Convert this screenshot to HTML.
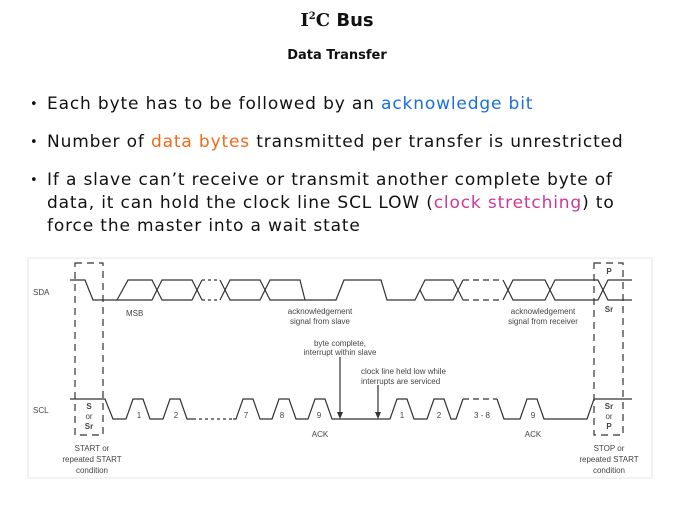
<!DOCTYPE html>
<html><head><meta charset="utf-8"><style>
body{margin:0;width:674px;height:506px;background:#fff;position:relative;overflow:hidden;font-family:"DejaVu Sans","Liberation Sans",sans-serif;color:#111}
.t{position:absolute;left:0;width:674px;text-align:center;font-weight:bold}
.b{position:absolute;left:30px;font-size:17px;line-height:23px;letter-spacing:0.85px;white-space:nowrap}
.b span.d{position:absolute;left:0;font-size:13px;letter-spacing:0}
.b div{margin-left:17px}
</style></head><body>
<div class="t" style="top:10px;font-size:18px;font-family:'DejaVu Serif','Liberation Serif',serif">I<sup style="font-size:10px">2</sup>C <span style="font-family:'DejaVu Sans',sans-serif">Bus</span></div>
<div class="t" style="top:48px;font-size:13px">Data Transfer</div>
<div class="b" style="top:93px"><span class="d">•</span><div>Each byte has to be followed by an <span style="color:#1a6fe0">acknowledge bit</span></div></div>
<div class="b" style="top:131px"><span class="d">•</span><div>Number of <span style="color:#ee6a1a">data bytes</span> transmitted per transfer is unrestricted</div></div>
<div class="b" style="top:169px"><span class="d">•</span><div>If a slave can’t receive or transmit another complete byte of<br>data, it can hold the clock line SCL LOW (<span style="color:#c83a9a">clock stretching</span>) to<br>force the master into a wait state</div></div>
<svg style="position:absolute;left:0;top:0" width="674" height="506" font-family="Liberation Sans,sans-serif" font-size="8" fill="#444">
<rect x="28" y="258" width="624" height="220" fill="none" stroke="#e4e4e4"/>
<g stroke="#333" stroke-width="1.2" fill="none">
<polyline points="70,280 85,280 93,300 152,300 162,280 192,280 202,300"/>
<polyline points="117,300 128,280 152,280 162,300 192,300 202,280"/>
<polyline points="202,280 220,280" stroke-dasharray="3,3"/><polyline points="202,300 220,300" stroke-dasharray="3,3"/>
<polyline points="220,280 230,300 260,300 270,280 300,280 305,300"/>
<polyline points="220,300 230,280 260,280 270,300 336,300 344,280 381,280 387,300 415,300 425,280 453,280 463,300"/>
<polyline points="420,290 425,300 453,300 463,280"/>
<polyline points="463,280 503,280" stroke-dasharray="6,4"/><polyline points="463,300 503,300" stroke-dasharray="6,4"/>
<polyline points="503,280 513,300 545,300 555,280 598,280 608,300 632,300"/>
<polyline points="503,300 513,280 545,280 555,300 598,300 608,280 632,280"/>
<polyline points="70,399 105,399 113,419 126,419 133,399 143,399 150,419 163,419 170,399 180,399 187,419 193,419"/>
<polyline points="193,419 233,419" stroke-dasharray="3,3"/>
<polyline points="233,419 236,419 243,399 253,399 260,419 272,419 279,399 289,399 296,419 308,419 315,399 325,399 332,419 390,419 397,399 407,399 414,419 427,419 434,399 444,399 451,419 456,419 463,399"/>
<polyline points="463,399 497,399" stroke-dasharray="6,4"/>
<polyline points="497,399 504,419 520,419 527,399 537,399 544,419 587,419 594,399 632,399"/>
<rect x="75" y="263" width="28" height="172" stroke-dasharray="7,5"/>
<rect x="594" y="263" width="29" height="172" stroke-dasharray="7,5"/>
<line x1="340" y1="357" x2="340" y2="413"/><line x1="378" y1="385" x2="378" y2="413"/>
</g>
<polygon points="337,412 343,412 340,419" fill="#333"/><polygon points="375,412 381,412 378,419" fill="#333"/>
<text x="33" y="295">SDA</text><text x="33" y="413">SCL</text>
<text x="126" y="316">MSB</text>
<g text-anchor="middle">
<text x="320" y="314">acknowledgement</text><text x="320" y="324">signal from slave</text>
<text x="543" y="314">acknowledgement</text><text x="543" y="324">signal from receiver</text>
<text x="340" y="346">byte complete,</text><text x="340" y="355">interrupt within slave</text>
<text x="139" y="418">1</text><text x="176" y="418">2</text><text x="246" y="418">7</text><text x="282" y="418">8</text><text x="319" y="418">9</text>
<text x="402" y="418">1</text><text x="439" y="418">2</text><text x="482" y="418">3 - 8</text><text x="533" y="418">9</text>
<text x="320" y="437">ACK</text><text x="533" y="437">ACK</text>
<text x="89" y="409" font-weight="bold">S</text><text x="89" y="419">or</text><text x="89" y="429" font-weight="bold">Sr</text>
<text x="609" y="274" font-weight="bold">P</text><text x="609" y="312" font-weight="bold">Sr</text>
<text x="609" y="409" font-weight="bold">Sr</text><text x="609" y="419">or</text><text x="609" y="429" font-weight="bold">P</text>
<text x="92" y="451">START or</text><text x="92" y="462">repeated START</text><text x="92" y="473">condition</text>
<text x="609" y="451">STOP or</text><text x="609" y="462">repeated START</text><text x="609" y="473">condition</text>
</g>
<text x="361" y="374">clock line held low while</text><text x="361" y="384">interrupts are serviced</text>
</svg>
</body></html>
